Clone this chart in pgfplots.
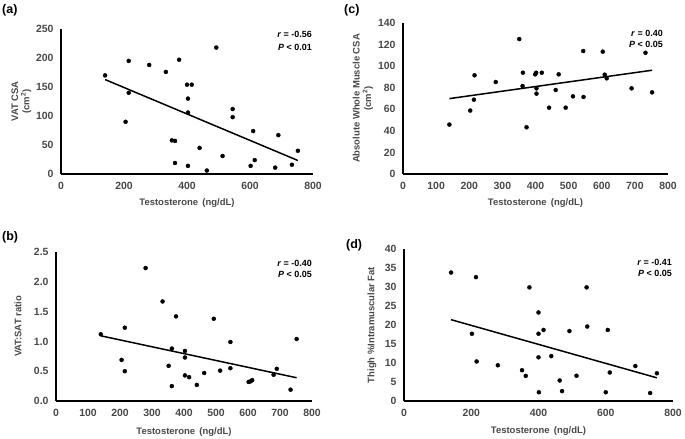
\documentclass[border=0pt]{standalone}
\usepackage{fontspec}
\setmainfont{Liberation Sans}
\usepackage{pgfplots}
\pgfplotsset{compat=1.18}
\definecolor{lbl}{HTML}{484848}

\pgfplotsset{
  panel/.style={
    scale only axis, clip=false,
    axis x line=bottom, axis y line=left,
    axis line style={-, line width=1.8bp, black},
    major tick length=0pt, enlargelimits=false,
    xmin=0, xmax=800,
    tick label style={font=\fontsize{10.5}{12}\selectfont\bfseries, text=lbl},
    /pgf/number format/assume math mode=true,
    /pgf/number format/1000 sep={},
    label style={font=\fontsize{9.5}{11.5}\selectfont\bfseries, text=lbl},
    xlabel={Testosterone\hspace{0.45em}(ng/dL)},
    yticklabel style={xshift=-4bp},
    xticklabel style={yshift=-5bp},
  },
  dots/.style={only marks, mark=*, mark size=2bp, black},
  fit/.style={no marks, black, line width=1.5bp},
}

\begin{document}
\begin{tikzpicture}
\useasboundingbox (0bp,0bp) rectangle (685bp,439bp);

% (a) VAT CSA
\begin{axis}[panel, at={(61bp,265bp)}, anchor=south west, width=252bp, height=145bp,
  ymin=0, ymax=250, ytick={0,50,...,250}, xtick={0,200,...,800},
  ylabel={VAT CSA\\(cm\textsuperscript{2})},
  ylabel style={align=center, at={(axis description cs:-0.157,0.5)}, anchor=center},
  xlabel style={at={(axis description cs:0.5,-0.2)}, anchor=center}]
\addplot[dots] coordinates {
  (140,170) (205,90) (215,195) (215,140) (280,188) (333,176) (352,58)
  (362,57) (362,19) (375,197) (400,154) (415,154) (403,130) (403,106)
  (403,14) (440,45) (463,6) (493,218) (513,31) (545,112) (545,98)
  (602,14) (610,74) (615,24) (680,11) (690,67) (733,16) (752,40)
};
\addplot[fit] coordinates {(140,162.8) (752,23.3)};
\end{axis}

% (c) Absolute whole muscle CSA
\begin{axis}[panel, at={(403bp,265bp)}, anchor=south west, width=265bp, height=151bp,
  ymin=0, ymax=140, ytick={0,20,...,140}, xtick={0,100,...,800},
  ylabel={Absolute Whole Muscle CSA\\(cm\textsuperscript{2})},
  ylabel style={align=center, at={(axis description cs:-0.151,0.5)}, anchor=center},
  xlabel style={at={(axis description cs:0.5,-0.192)}, anchor=center}]
\addplot[dots] coordinates {
  (140,45.8) (203,58.8) (214,68.9) (216,91.5) (280,85.3) (351,125.1)
  (362,93.9) (361,81.6) (373,43.3) (399,92.4) (402,93.9) (419,93.9)
  (403,79.4) (403,74.5) (441,61.5) (461,77.9) (470,92.4) (491,61.5)
  (513,72.0) (544,114.0) (545,71.4) (603,113.4) (609,92.1) (615,88.7)
  (690,79.4) (732,112.4) (752,75.7)
};
\addplot[fit] coordinates {(140,69.9) (752,96.2)};
\end{axis}

% (b) VAT:SAT ratio
\begin{axis}[panel, at={(56bp,38bp)}, anchor=south west, width=256bp, height=149bp,
  ymin=0, ymax=2.5, ytick={0,0.5,...,2.5}, xtick={0,100,...,800},
  yticklabel style={/pgf/number format/.cd, fixed, fixed zerofill, precision=1},
  ylabel={VAT:SAT ratio},
  ylabel style={at={(axis description cs:-0.148,0.5)}, anchor=center},
  xlabel style={at={(axis description cs:0.5,-0.208)}, anchor=center}]
\addplot[dots] coordinates {
  (140,1.12) (205,0.69) (215,1.23) (215,0.50) (280,2.23) (333,1.67)
  (352,0.59) (362,0.88) (362,0.25) (375,1.42) (403,0.84) (403,0.73)
  (403,0.43) (416,0.40) (440,0.27) (463,0.47) (493,1.38) (513,0.51)
  (545,0.99) (545,0.55) (602,0.32) (608,0.33) (613,0.35) (680,0.44)
  (690,0.54) (733,0.19) (752,1.04)
};
\addplot[fit] coordinates {(140,1.094) (752,0.39)};
\end{axis}

% (d) Thigh % intramuscular fat
\begin{axis}[panel, at={(404bp,38bp)}, anchor=south west, width=269bp, height=152bp,
  ymin=0, ymax=40, ytick={0,5,...,40}, xtick={0,200,...,800},
  ylabel={Thigh \%Intramuscular Fat},
  ylabel style={at={(axis description cs:-0.119,0.5)}, anchor=center},
  xlabel style={at={(axis description cs:0.5,-0.197)}, anchor=center}]
\addplot[dots] coordinates {
  (140,33.8) (214,32.6) (202,17.7) (216,10.4) (279,9.4) (351,8.1)
  (362,6.6) (373,29.9) (400,23.3) (400,17.7) (415,18.7) (400,11.5)
  (438,11.8) (463,5.4) (470,2.6) (401,2.3) (492,18.4) (513,6.65)
  (543,29.9) (545,19.6) (606,18.7) (612,7.5) (600,2.3) (688,9.2)
  (732,2.1) (752,7.3)
};
\addplot[fit] coordinates {(140,21.4) (752,6.1)};
\end{axis}

% panel letters
\tikzset{plbl/.style={anchor=west, inner sep=0pt, font=\fontsize{12.5}{14}\selectfont\bfseries}}
\node[plbl] at (2bp,429bp) {(a)};
\node[plbl] at (344bp,429bp) {(c)};
\node[plbl] at (2bp,202bp) {(b)};
\node[plbl] at (346bp,194bp) {(d)};

% statistics
\tikzset{stat/.style={anchor=east, inner sep=0pt, font=\fontsize{9}{11}\selectfont\bfseries}}
\node[stat] at (312bp,405bp) {\textit{r} = -0.56};
\node[stat] at (312bp,392bp) {\textit{P} < 0.01};
\node[stat] at (663bp,406bp) {\textit{r} = 0.40};
\node[stat] at (663bp,395bp) {\textit{P} < 0.05};
\node[stat] at (312bp,176bp) {\textit{r} = -0.40};
\node[stat] at (312bp,165bp) {\textit{P} < 0.05};
\node[stat] at (672bp,177bp) {\textit{r} = -0.41};
\node[stat] at (672bp,166bp) {\textit{P} < 0.05};
\end{tikzpicture}
\end{document}
